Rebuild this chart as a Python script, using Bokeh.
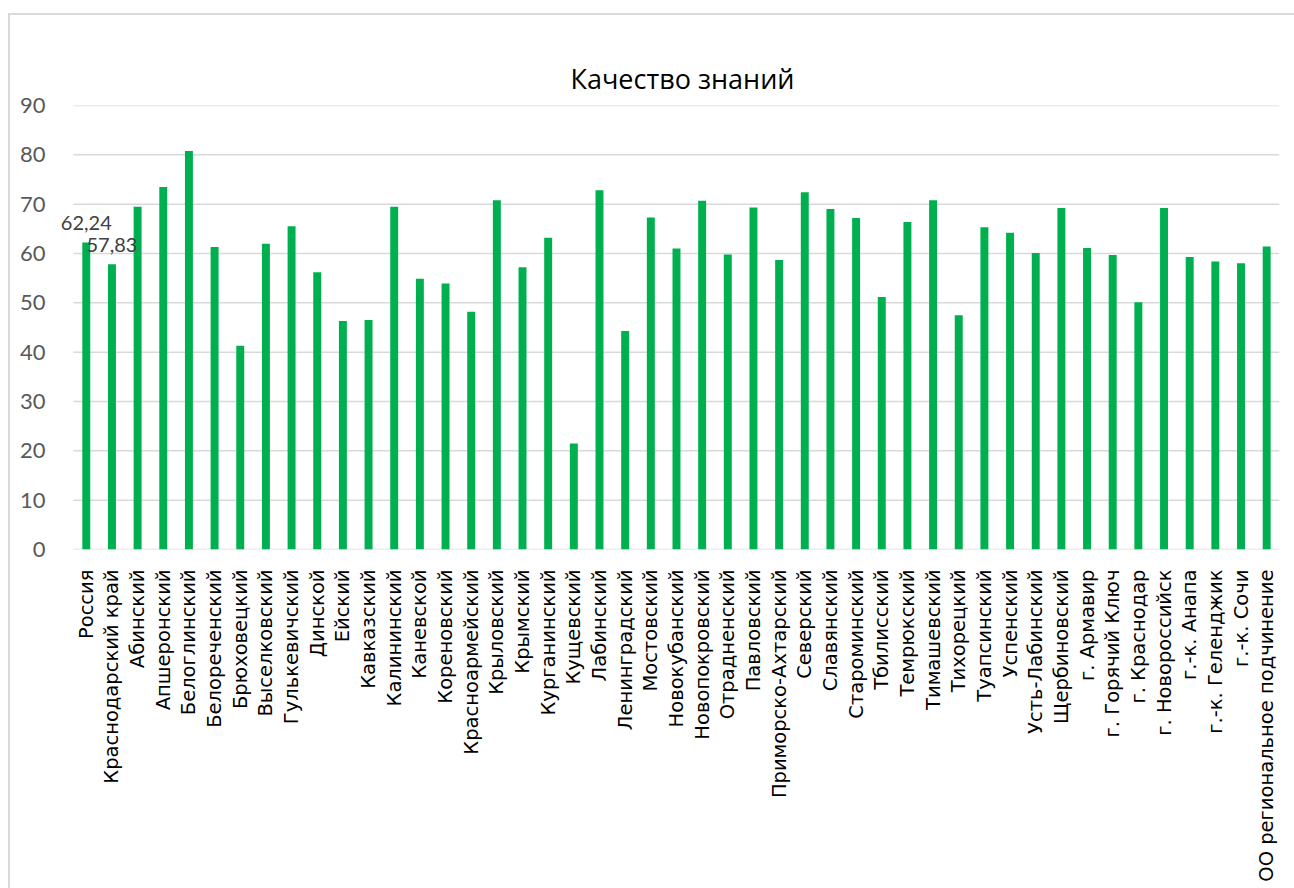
import math
from bokeh.plotting import figure
from bokeh.models import Label, FixedTicker, Range1d, ColumnDataSource
from bokeh.embed import file_html
from bokeh.resources import INLINE

categories = [
    "Россия", "Краснодарский край", "Абинский", "Апшеронский", "Белоглинский",
    "Белореченский", "Брюховецкий", "Выселковский", "Гулькевичский", "Динской",
    "Ейский", "Кавказский", "Калининский", "Каневской", "Кореновский",
    "Красноармейский", "Крыловский", "Крымский", "Курганинский", "Кущевский",
    "Лабинский", "Ленинградский", "Мостовский", "Новокубанский", "Новопокровский",
    "Отрадненский", "Павловский", "Приморско-Ахтарский", "Северский", "Славянский",
    "Староминский", "Тбилисский", "Темрюкский", "Тимашевский", "Тихорецкий",
    "Туапсинский", "Успенский", "Усть-Лабинский", "Щербиновский", "г. Армавир",
    "г. Горячий Ключ", "г. Краснодар", "г. Новороссийск", "г.-к. Анапа",
    "г.-к. Геленджик", "г.-к. Сочи", "ОО региональное подчинение",
]
values = [
    62.24, 57.83, 69.5, 73.5, 80.8,
    61.3, 41.3, 62.0, 65.5, 56.2,
    46.3, 46.5, 69.5, 54.9, 53.9,
    48.2, 70.8, 57.2, 63.2, 21.5,
    72.8, 44.3, 67.3, 61.0, 70.7,
    59.8, 69.3, 58.7, 72.4, 69.0,
    67.2, 51.2, 66.4, 70.8, 47.5,
    65.3, 64.2, 60.1, 69.2, 61.1,
    59.7, 50.1, 69.2, 59.3, 58.4,
    58.0, 61.4,
]
label_categories = ["Россия", "Краснодарский край"]
label_values = [62.24, 57.83]
label_texts = ["62,24", "57,83"]
y_ticks = [0, 10, 20, 30, 40, 50, 60, 70, 80, 90]
title_text = "Качество знаний"

n = len(categories)
idx = list(range(n))

p = figure(
    x_range=Range1d(-1.2, n - 0.5), y_range=Range1d(0, 90),
    width=1286, height=875,
    output_backend="svg", toolbar_location=None,
    min_border_left=45, min_border_right=17, min_border_top=90, min_border_bottom=341,
    title=title_text,
)
p.styles = {"border-top": "2px solid #d9d9d9", "border-left": "2px solid #d9d9d9",
            "margin-top": "13px", "margin-left": "8px", "box-sizing": "border-box"}

# horizontal gridlines limited to the category span
p.segment(x0=[-0.5] * len(y_ticks), x1=[n - 0.5] * len(y_ticks), y0=y_ticks, y1=y_ticks,
          line_color="#d9d9d9", line_width=1.5)

src = ColumnDataSource(dict(x=idx, val=values))
p.vbar(x="x", top="val", width=0.31, source=src, fill_color="#00b050", line_color=None)

for c, v, t in zip(label_categories, label_values, label_texts):
    p.add_layout(Label(x=categories.index(c), y=v, text=t, text_align="center", level="overlay",
                       text_baseline="alphabetic", y_offset=19, text_color="#404040",
                       text_font="Lato", text_font_size="20px"))

p.title.align = "left"
p.title.offset = 515
p.title.text_font = "Open Sans"
p.title.text_font_size = "27px"
p.title.text_font_style = "normal"
p.title.text_color = "#000000"
p.title.standoff = 17

p.outline_line_color = None
p.background_fill_color = "white"
p.border_fill_color = "white"

p.xgrid.grid_line_color = None
p.ygrid.grid_line_color = None
p.yaxis.ticker = FixedTicker(ticks=y_ticks)
p.yaxis.axis_line_color = None
p.yaxis.major_tick_line_color = None
p.yaxis.minor_tick_line_color = None
p.yaxis.major_label_text_font = "Lato"
p.yaxis.major_label_text_font_size = "22px"
p.yaxis.major_label_text_color = "#595959"
p.yaxis.major_label_standoff = 4

p.xaxis.ticker = FixedTicker(ticks=idx)
p.xaxis.major_label_overrides = {i: c for i, c in zip(idx, categories)}
p.xaxis.axis_line_color = None
p.xaxis.major_tick_line_color = None
p.xaxis.minor_tick_line_color = None
p.xaxis.major_label_orientation = math.pi / 2
p.xaxis.major_label_text_font = "DejaVu Sans"
p.xaxis.major_label_text_font_size = "19.5px"
p.xaxis.major_label_text_color = "#000000"
p.xaxis.major_label_standoff = 14

open("out.html", "w").write(file_html(p, INLINE))
